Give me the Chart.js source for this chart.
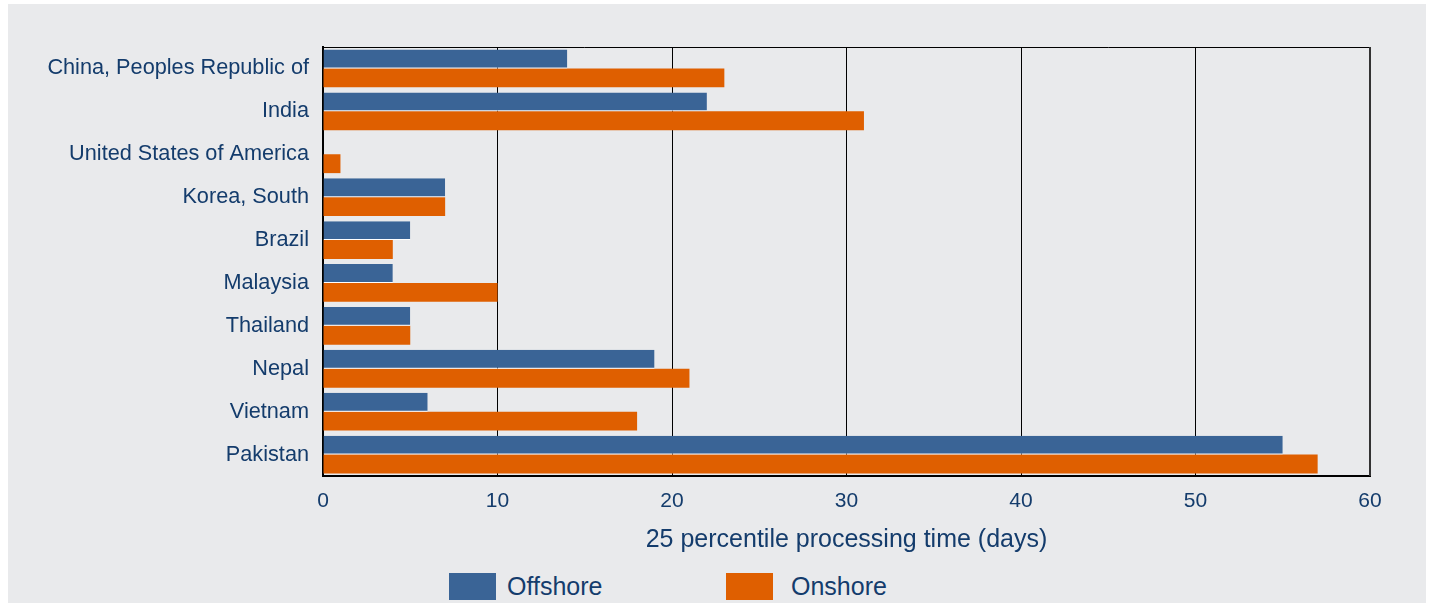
<!DOCTYPE html>
<html>
<head>
<meta charset="utf-8">
<script src="https://cdn.jsdelivr.net/npm/chart.js@4/dist/chart.umd.min.js"></script>
<style>
  html, body { margin: 0; padding: 0; background: #fff; }
  .panel { position: absolute; left: 8px; top: 4px; width: 1418px; height: 599px; background: #e9eaec; }
  .chart-wrap { position: absolute; left: 0; top: 0; width: 1418px; height: 563px; }
  .legend-item { position: absolute; top: 569px; height: 27px; display: flex; align-items: center;
    font-family: "Liberation Sans", Arial, sans-serif; font-size: 25px; color: #143c6c; }
  .legend-box { width: 47px; height: 27px; margin-right: 11px; }
</style>
</head>
<body>
<div class="panel">
  <div class="chart-wrap"><canvas id="chart"></canvas></div>
  <div id="legend"></div>
</div>
<script>
const COUNTRIES = [
  'China, Peoples Republic of', 'India', 'United States of America', 'Korea, South',
  'Brazil', 'Malaysia', 'Thailand', 'Nepal', 'Vietnam', 'Pakistan',
];
const OFFSHORE = [14, 22, 0, 7, 5, 4, 5, 19, 6, 55];
const ONSHORE = [23, 31, 1, 7, 4, 10, 5, 21, 18, 57];
const SERIES_LABELS = ['Offshore', 'Onshore'];
const X_TICKS = [0, 10, 20, 30, 40, 50, 60];
const X_TITLE = '25 percentile processing time (days)';

const BLUE = '#3a6496';
const ORANGE = '#df5f00';
const TEXT = '#143c6c';
const FONT = '"Liberation Sans", Arial, sans-serif';

// frame: top + right edges of the plot box
const framePlugin = {
  id: 'frame',
  afterDraw(chart) {
    const { ctx, chartArea: a } = chart;
    ctx.save();
    ctx.strokeStyle = '#000';
    ctx.lineWidth = 1;
    ctx.beginPath();
    ctx.moveTo(a.left, a.top + 0.5);
    ctx.lineTo(a.right, a.top + 0.5);
    ctx.stroke();
    ctx.strokeStyle = '#333';
    ctx.lineWidth = 2;
    ctx.beginPath();
    ctx.moveTo(a.right, a.top);
    ctx.lineTo(a.right, a.bottom);
    ctx.stroke();
    ctx.restore();
  },
};

const colors = [BLUE, ORANGE];
const datasets = [OFFSHORE, ONSHORE].map((data, i) => ({
  label: SERIES_LABELS[i],
  data,
  backgroundColor: colors[i],
  borderColor: '#ffffff',
  borderWidth: i === 0 ? { top: 0, right: 0, bottom: 1, left: 0 } : 0,
  borderSkipped: false,
  categoryPercentage: 0.88,
  barPercentage: 1,
}));

new Chart(document.getElementById('chart'), {
  type: 'bar',
  data: { labels: COUNTRIES, datasets },
  plugins: [framePlugin],
  options: {
    indexAxis: 'y',
    responsive: true,
    maintainAspectRatio: false,
    animation: false,
    layout: { padding: { top: 43, right: 56, bottom: 10.8, left: 0 } },
    plugins: { legend: { display: false }, tooltip: { enabled: false } },
    scales: {
      x: {
        min: 0,
        max: 60,
        afterBuildTicks: (scale) => { scale.ticks = X_TICKS.map((v) => ({ value: v })); },
        ticks: { color: TEXT, font: { family: FONT, size: 21 }, padding: 13 },
        grid: { color: '#000', lineWidth: 1, drawTicks: false },
        border: { color: '#000', width: 2 },
        title: {
          display: true,
          text: X_TITLE,
          color: TEXT,
          font: { family: FONT, size: 25, lineHeight: 1 },
          padding: { top: 0, bottom: 4 },
        },
      },
      y: {
        afterFit: (scale) => { scale.width = 315; },
        ticks: { color: TEXT, font: { family: FONT, size: 21.7 }, padding: 14 },
        grid: { display: false, drawTicks: false },
        border: { color: '#000', width: 2 },
      },
    },
  },
});

// legend drawn as html, colours/labels from the same arrays
const legendLeft = [441, 718];
const legend = document.getElementById('legend');
SERIES_LABELS.forEach((label, i) => {
  const item = document.createElement('div');
  item.className = 'legend-item';
  item.style.left = legendLeft[i] + 'px';
  item.innerHTML = `<span class="legend-box" style="background:${colors[i]};${i === 1 ? 'margin-right:18px' : ''}"></span>${label}`;
  legend.appendChild(item);
});
</script>
</body>
</html>
